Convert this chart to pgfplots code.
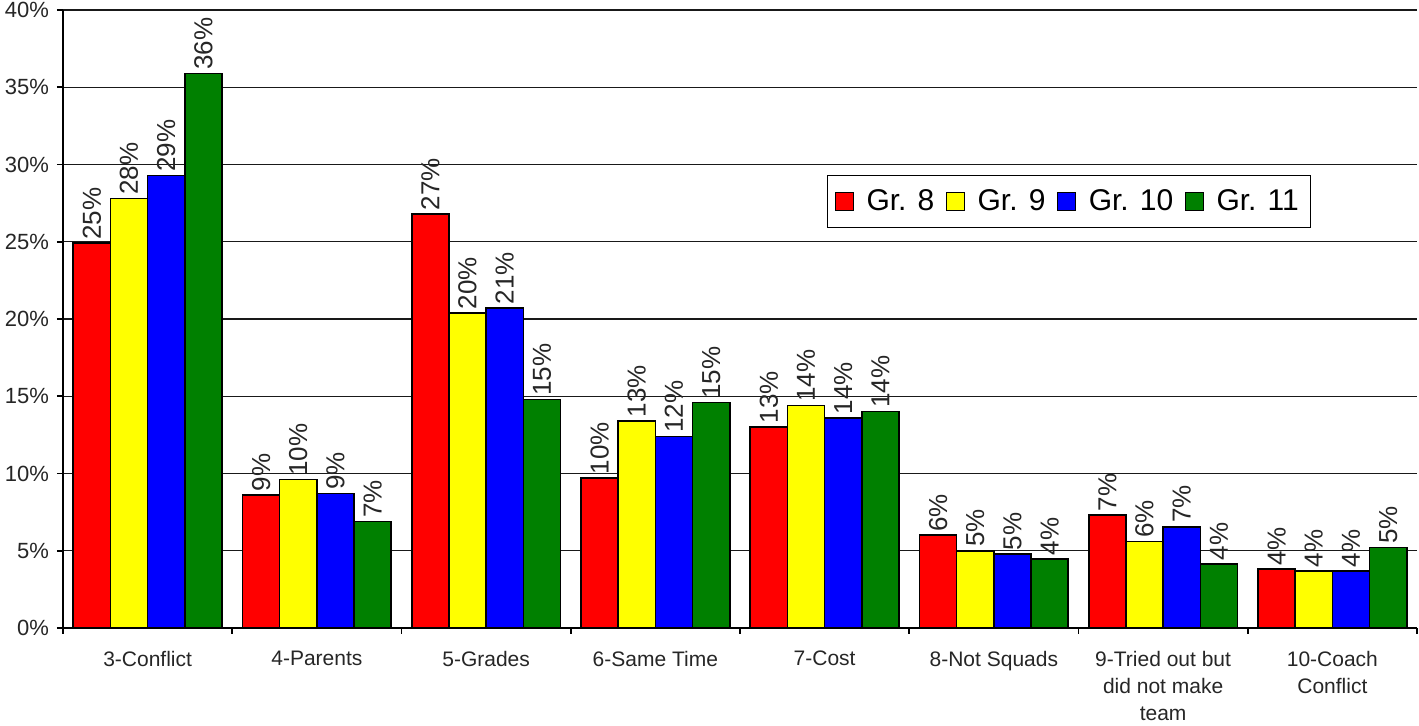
\documentclass[border=0pt]{standalone}
\usepackage{fontspec}
\setmainfont{Liberation Sans}
\usepackage{pgfplots}
\pgfplotsset{compat=1.18}
\definecolor{xlred}{RGB}{255,0,0}
\definecolor{xlyellow}{RGB}{255,255,0}
\definecolor{xlblue}{RGB}{0,0,255}
\definecolor{xlgreen}{RGB}{0,128,0}
\begin{document}
\begin{tikzpicture}
\useasboundingbox (-31.5pt,-49pt) rectangle (678pt,314pt);
\begin{axis}[
  scale only axis,
  width=677pt, height=309pt,
  ybar=0pt, bar width=18.6pt,
  xmin=-0.5, xmax=7.5, ymin=0, ymax=40,
  axis lines*=left,
  axis line style={black, line width=0.8pt},
  tick align=outside,
  xtick={0,...,7},
  xticklabels={{3-Conflict},{4-Parents},{5-Grades},{6-Same Time},{7-Cost},{8-Not Squads},{9-Tried out but\\did not make\\team},{10-Coach\\Conflict}},
  major x tick style={draw=none},
  minor xtick={-0.5,0.5,...,7.5},
  minor tick length=3pt,
  minor x tick style={black, line width=0.8pt},
  xticklabel style={font=\fontsize{10.5}{13.5}\selectfont, align=center, yshift=-5pt, text=black!85},
  ytick={0,5,...,40},
  yticklabels={0\%,5\%,10\%,15\%,20\%,25\%,30\%,35\%,40\%},
  major tick length=3pt,
  y tick style={black, line width=0.8pt},
  yticklabel style={font=\fontsize{11}{12}\selectfont, text=black!85, xshift=-0.5pt},
  ymajorgrids,
  grid style={black!90, line width=0.7pt},
  /pgf/number format/assume math mode=true,
  nodes near coords={\pgfmathprintnumber[fixed,precision=0]{\pgfplotspointmeta}\%},
  every node near coord/.append style={font=\fontsize{13}{14}\selectfont, rotate=90, anchor=west, inner sep=1.5pt, text=black!85},
  legend columns=4,
  legend style={at={(rel axis cs:0.564,0.733)}, anchor=north west, draw=black, line width=0.6pt,
     font=\fontsize{15}{17}\selectfont, inner xsep=4pt, inner ysep=5pt,
     /tikz/every even column/.append style={column sep=4pt}},
  legend image code/.code={\draw[#1, draw=black, line width=0.5pt] (0pt,-4.5pt) rectangle (9pt,4.5pt); \path (13pt,0pt);},
]
\addplot[fill=xlred, draw=black, line width=0.8pt] coordinates {(0,24.9) (1,8.6) (2,26.8) (3,9.7) (4,13.0) (5,6.0) (6,7.3) (7,3.82)};
\addplot[fill=xlyellow, draw=black, line width=0.8pt] coordinates {(0,27.8) (1,9.6) (2,20.4) (3,13.4) (4,14.4) (5,5.0) (6,5.6) (7,3.7)};
\addplot[fill=xlblue, draw=black, line width=0.8pt] coordinates {(0,29.3) (1,8.7) (2,20.7) (3,12.4) (4,13.6) (5,4.8) (6,6.55) (7,3.7)};
\addplot[fill=xlgreen, draw=black, line width=0.8pt] coordinates {(0,35.9) (1,6.9) (2,14.8) (3,14.6) (4,14.0) (5,4.45) (6,4.15) (7,5.2)};
\legend{Gr. 8, Gr. 9, Gr. 10, Gr. 11}
\end{axis}
\end{tikzpicture}
\end{document}
